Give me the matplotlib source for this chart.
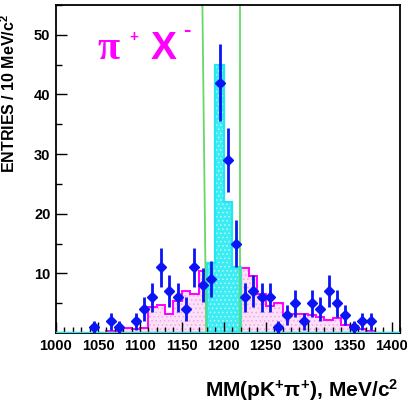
import numpy as np
import matplotlib
matplotlib.use("Agg")
from matplotlib import pyplot as plt

plt.rcParams["font.family"] = ["Liberation Sans", "DejaVu Sans"]
plt.rcParams["mathtext.fontset"] = "custom"
plt.rcParams["mathtext.rm"] = "Liberation Sans:bold"
plt.rcParams["mathtext.bf"] = "Liberation Sans:bold"
plt.rcParams["mathtext.it"] = "Liberation Sans:bold"
plt.rcParams["hatch.linewidth"] = 0.6

# 10 MeV bins
edges = np.arange(1000, 1420, 10)
centers = edges[:-1] + 5

# measured counts per bin
counts = [0, 0, 0, 0, 1, 0, 2, 1, 0, 2,
          4, 6, 11, 7, 6, 4, 11, 8, 9, 42,
          29, 15, 6, 7, 6, 6, 1, 3, 5, 2,
          5, 4, 7, 5, 3, 1, 2, 2, 0, 0, 0]

# background expectation (magenta)
background = [0, 0, 0, 0, 0, 0, 0.3, 0.3, 0.8, 0.6,
              0.8, 4.4, 4.7, 3.2, 5.3, 7.0, 6.6, 10.4, 11.0, 11.3,
              11.3, 11.0, 10.9, 9.5, 6.5, 4.5, 5.0, 3.2, 3.2, 3.2,
              3.0, 2.6, 2.2, 2.5, 1.4, 1.1, 0.7, 0.3, 0, 0, 0]

# signal + background in the peak window (cyan)
peak = [0] * 18 + [11.8, 45, 22, 11] + [0] * 19

# fitted curve flanks, (x at top, x at bottom)
fit_left = [1174.5, 1179.0]
fit_right = [1219.8, 1219.8]
fit_y = [55, 0]

counts = np.array(counts, dtype=float)
errors = np.sqrt(counts)
nonzero = counts > 0

fig = plt.figure(figsize=(4.07, 4.05), dpi=100)
ax = fig.add_axes([56 / 407, 1 - 333 / 405, 344 / 407, 328 / 405])

ax.stairs(background, edges, fill=True, facecolor="#fce0f7", hatch="....",
          edgecolor="#f4a6ea", linewidth=0)
ax.stairs(background, edges, color="#ff00ff", linewidth=1.4)
ax.stairs(peak, edges, fill=True, facecolor="#3cecf4", hatch="....",
          edgecolor="#b8f8fb", linewidth=0)
ax.stairs(peak, edges, color="#22e6f0", linewidth=1.6, baseline=None)
ax.axhline(0, color="#22e6f0", linewidth=2.5, zorder=3)

ax.plot(fit_left, fit_y, color="#66d866", linewidth=1.3)
ax.plot(fit_right, fit_y, color="#66d866", linewidth=1.3)

ax.errorbar(centers[nonzero], counts[nonzero], yerr=errors[nonzero],
            fmt="D", color="#0a14f5", markersize=5, elinewidth=2.0,
            capsize=0, zorder=5)

ax.set_xlim(1000, 1410)
ax.set_ylim(0, 55)
ax.set_xticks(np.arange(1000, 1401, 50))
ax.set_xticks(np.arange(1000, 1411, 10), minor=True)
ax.set_yticks([10, 20, 30, 40, 50])
ax.set_yticks(np.arange(5, 56, 5), minor=True)
ax.tick_params(direction="in", which="major", length=8, width=1.0,
               labelsize=10.5, pad=4)
ax.tick_params(direction="in", which="minor", length=4, width=1.0)
ax.tick_params(axis="x", which="major", pad=4)
for lab in ax.get_xticklabels() + ax.get_yticklabels():
    lab.set_fontweight("bold")
for s in ax.spines.values():
    s.set_linewidth(1.3)

ax.set_ylabel(r"ENTRIES / 10 MeV/c$^{2}$", fontsize=11.5, fontweight="bold")
ax.yaxis.set_label_coords(-0.11, 0.73)
ax.set_xlabel(r"MM(pK$^{+}\pi^{+}$), MeV/c$^{2}$", fontsize=15,
              fontweight="bold", ha="right")
ax.xaxis.set_label_coords(0.995, -0.135)

ax.text(0.12, 0.835, "π", transform=ax.transAxes, color="#ff00ff",
        fontsize=29, family="Liberation Serif", fontweight="bold",
        va="baseline")
ax.text(0.212, 0.89, "+", transform=ax.transAxes, color="#ff00ff",
        fontsize=11, fontweight="bold", va="baseline")
ax.text(0.275, 0.835, "X", transform=ax.transAxes, color="#ff00ff",
        fontsize=28, fontweight="bold", va="baseline")
ax.text(0.37, 0.905, "-", transform=ax.transAxes, color="#ff00ff",
        fontsize=16, fontweight="bold", va="baseline")

fig.savefig("out.png", dpi=100)
